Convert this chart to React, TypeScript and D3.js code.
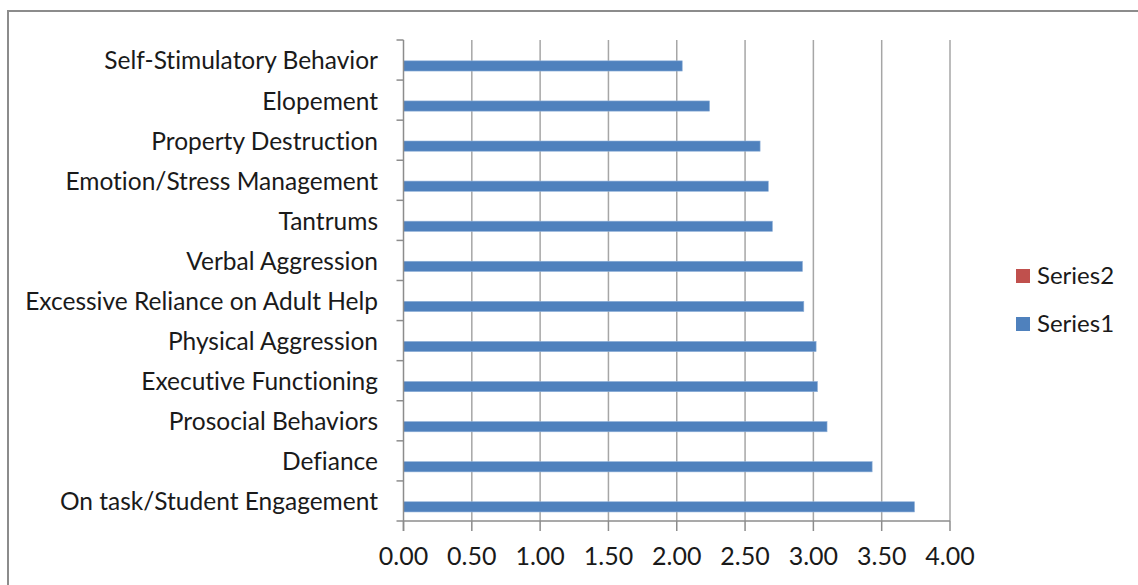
import React, { useEffect, useRef } from 'react';
import * as d3 from 'd3';

// categories top to bottom as they appear
const categories = [
  'Self-Stimulatory Behavior',
  'Elopement',
  'Property Destruction',
  'Emotion/Stress Management',
  'Tantrums',
  'Verbal Aggression',
  'Excessive Reliance on Adult Help',
  'Physical Aggression',
  'Executive Functioning',
  'Prosocial Behaviors',
  'Defiance',
  'On task/Student Engagement',
];
const series1 = [2.04, 2.24, 2.61, 2.67, 2.70, 2.92, 2.93, 3.02, 3.03, 3.10, 3.43, 3.74];
const series2 = [0, 0, 0, 0, 0, 0, 0, 0, 0, 0, 0, 0];
const xTicks = [0, 0.5, 1, 1.5, 2, 2.5, 3, 3.5, 4];
const seriesNames = ['Series2', 'Series1'];
const seriesColors = ['#C0504D', '#4F81BD'];

const FONT = 'Lato, "Open Sans", sans-serif';

export default function App() {
  const svgRef = useRef<SVGSVGElement>(null);

  useEffect(() => {
    if (!svgRef.current) return;
    const svg = d3.select(svgRef.current);
    svg.selectAll('*').remove();

    const width = 1138;
    const height = 585;
    const left = 403.5;
    const right = 950;
    const top = 40;
    const bottom = 521;

    // outer frame
    svg.append('rect')
      .attr('x', 8).attr('y', 11)
      .attr('width', 1150).attr('height', 600)
      .attr('fill', '#fff')
      .attr('stroke', '#8c8c8c')
      .attr('stroke-width', 2);

    const x = d3.scaleLinear().domain([0, 4]).range([left, right]);
    const y = d3.scaleBand().domain(categories).range([top, bottom]);
    const band = y.bandwidth();

    // gridlines
    svg.append('g')
      .selectAll('line')
      .data(xTicks.slice(1))
      .enter().append('line')
      .attr('x1', (d) => x(d)).attr('x2', (d) => x(d))
      .attr('y1', top).attr('y2', bottom)
      .attr('stroke', '#a6a6a6')
      .attr('stroke-width', 1.5);

    // bars: series1 in lower half of band, series2 (zero) above it
    const barH = 10.2;
    const s1Off = band / 2 + 0.8;
    svg.append('g')
      .selectAll('rect')
      .data(categories)
      .enter().append('rect')
      .attr('x', x(0))
      .attr('y', (d) => (y(d) as number) + s1Off)
      .attr('width', (d, i) => x(series1[i]) - x(0))
      .attr('height', barH)
      .attr('fill', seriesColors[1])
      .attr('stroke', '#8fb0d8')
      .attr('stroke-width', 0.6);

    svg.append('g')
      .selectAll('rect')
      .data(categories)
      .enter().append('rect')
      .attr('x', x(0))
      .attr('y', (d) => (y(d) as number) + s1Off - barH)
      .attr('width', (d, i) => x(series2[i]) - x(0))
      .attr('height', barH)
      .attr('fill', seriesColors[0]);

    // y axis line and ticks
    svg.append('line')
      .attr('x1', left).attr('x2', left)
      .attr('y1', top).attr('y2', bottom + 10)
      .attr('stroke', '#8c8c8c').attr('stroke-width', 1.5);
    const yTickPos = categories.map((c) => y(c) as number).concat([bottom]);
    svg.append('g')
      .selectAll('line')
      .data(yTickPos)
      .enter().append('line')
      .attr('x1', left - 7).attr('x2', left)
      .attr('y1', (d) => d).attr('y2', (d) => d)
      .attr('stroke', '#8c8c8c').attr('stroke-width', 1.5);

    // x axis line and ticks
    svg.append('line')
      .attr('x1', left).attr('x2', right)
      .attr('y1', bottom).attr('y2', bottom)
      .attr('stroke', '#8c8c8c').attr('stroke-width', 1.5);
    svg.append('g')
      .selectAll('line')
      .data(xTicks)
      .enter().append('line')
      .attr('x1', (d) => x(d)).attr('x2', (d) => x(d))
      .attr('y1', bottom).attr('y2', bottom + 10)
      .attr('stroke', '#8c8c8c').attr('stroke-width', 1.5);

    // x tick labels
    svg.append('g')
      .selectAll('text')
      .data(xTicks)
      .enter().append('text')
      .attr('x', (d) => x(d))
      .attr('y', 556)
      .attr('dy', '0.35em')
      .attr('text-anchor', 'middle')
      .style('font-family', FONT)
      .style('font-size', '25px')
      .attr('fill', '#1a1a1a')
      .text((d) => d3.format('.2f')(d));

    // category labels
    svg.append('g')
      .selectAll('text')
      .data(categories)
      .enter().append('text')
      .attr('x', 378)
      .attr('y', (d) => (y(d) as number) + band / 2 + 0.8)
      .attr('dy', '0.35em')
      .attr('text-anchor', 'end')
      .style('font-family', FONT)
      .style('font-size', '24.5px')
      .style('font-variant-ligatures', 'none')
      .attr('fill', '#1a1a1a')
      .text((d) => d);

    // legend
    const legend = svg.append('g');
    seriesNames.forEach((name, i) => {
      const ly = 276 + i * 48;
      legend.append('rect')
        .attr('x', 1016).attr('y', ly - 7)
        .attr('width', 14).attr('height', 14)
        .attr('fill', seriesColors[i]);
      legend.append('text')
        .attr('x', 1037).attr('y', ly)
        .attr('dy', '0.35em')
        .style('font-family', FONT)
        .style('font-size', '24px')
        .attr('fill', '#1a1a1a')
        .text(name);
    });

    svg.attr('width', width).attr('height', height);
  }, []);

  return (
    <svg
      ref={svgRef}
      width={1138}
      height={585}
      style={{ position: 'absolute', left: 0, top: 0, background: '#fff' }}
    />
  );
}
